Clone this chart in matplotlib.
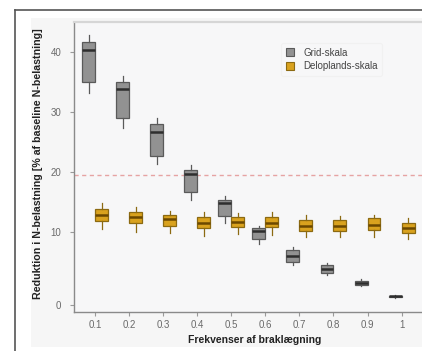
import numpy as np
import matplotlib
matplotlib.use("Agg")
import matplotlib.pyplot as plt
from matplotlib.patches import Rectangle, Patch
from matplotlib.lines import Line2D

# ---------------- data ----------------
categories = ["0.1", "0.2", "0.3", "0.4", "0.5", "0.6", "0.7", "0.8", "0.9", "1"]

grid_med = [40.4, 33.8, 26.6, 19.7, 14.8, 10.2, 6.7, 5.0, 3.05, 1.2]
grid_q1  = [35.0, 29.0, 22.7, 16.7, 12.7, 9.0, 5.9, 4.35, 2.75, 1.1]
grid_q3  = [41.7, 35.0, 28.0, 20.3, 15.3, 10.6, 7.5, 5.5, 3.35, 1.3]
grid_lo  = [33.2, 27.3, 21.3, 15.3, 11.5, 8.4, 5.5, 4.1, 2.6, 1.0]
grid_hi  = [42.8, 36.0, 29.0, 21.2, 16.0, 11.0, 7.9, 5.75, 3.5, 1.4]

del_med = [12.8, 12.55, 12.1, 11.55, 11.7, 11.55, 11.0, 11.0, 11.2, 10.7]
del_q1  = [11.9, 11.45, 11.0, 10.6, 10.8, 10.8, 10.15, 10.15, 10.3, 9.9]
del_q3  = [13.8, 13.3, 12.8, 12.55, 12.55, 12.55, 12.0, 12.0, 12.3, 11.55]
del_lo  = [10.45, 10.05, 9.8, 9.45, 9.7, 9.6, 9.3, 9.3, 9.3, 9.0]
del_hi  = [14.8, 14.2, 13.5, 13.4, 13.2, 13.4, 12.8, 12.7, 12.8, 12.3]

series_names = ["Grid-skala", "Deloplands-skala"]
threshold = 19.5
y_ticks = [0, 10, 20, 30, 40]

# ---------------- scale (axis is stretched below 10) ----------------
K = 73.0 / 60.0

def fwd(v):
    v = np.asarray(v, dtype=float)
    return np.where(v < 10, 10 - (10 - v) * K, v)

def inv(u):
    u = np.asarray(u, dtype=float)
    return np.where(u < 10, 10 - (10 - u) / K, u)

# ---------------- figure ----------------
plt.rcParams['font.family'] = ['Liberation Sans', 'DejaVu Sans']
W, H = 422, 351
fig = plt.figure(figsize=(W / 100, H / 100), dpi=100)
fig.patch.set_facecolor('white')

# light panel behind the chart
fig.add_artist(Rectangle((31 / W, 1 - 347 / H), 1 - 31 / W, (347 - 18) / H,
                         transform=fig.transFigure, facecolor='#f6f6f6',
                         edgecolor='none', zorder=-10))
# outer frame lines
fig.add_artist(Line2D([15 / W, 15 / W], [0, 1 - 10 / H], transform=fig.transFigure,
                      color='#555555', lw=1.2))
fig.add_artist(Line2D([15 / W, 1], [1 - 10 / H, 1 - 10 / H], transform=fig.transFigure,
                      color='#555555', lw=1.2))

ax = fig.add_axes([74 / W, 1 - 312 / H, 1 - 74 / W, (312 - 22) / H])
ax.set_facecolor('#f7f7f8')
ax.set_yscale('function', functions=(fwd, inv))

x = np.arange(len(categories))
off = 0.19
wid = 0.38

def stats(med, q1, q3, lo, hi):
    return [dict(med=m, q1=a, q3=b, whislo=l, whishi=h, fliers=[])
            for m, a, b, l, h in zip(med, q1, q3, lo, hi)]

ax.bxp(stats(grid_med, grid_q1, grid_q3, grid_lo, grid_hi), positions=x - off,
       widths=wid, patch_artist=True, showcaps=False, manage_ticks=False,
       boxprops=dict(facecolor='#929292', edgecolor='#5a5a5a', lw=0.9),
       medianprops=dict(color='#2e2e2e', lw=1.8),
       whiskerprops=dict(color='#5a5a5a', lw=0.9), zorder=3)
ax.bxp(stats(del_med, del_q1, del_q3, del_lo, del_hi), positions=x + off,
       widths=wid, patch_artist=True, showcaps=False, manage_ticks=False,
       boxprops=dict(facecolor='#d9a21e', edgecolor='#8c6a12', lw=0.9),
       medianprops=dict(color='#6b4800', lw=1.8),
       whiskerprops=dict(color='#8c6a12', lw=0.9), zorder=3)

ax.axhline(threshold, color='#e6a3a3', lw=1.0, ls=(0, (3, 2.5)), zorder=2)

ax.set_xlim(-0.62, 9.6)
ax.set_ylim(inv(-3.33), 45)
ax.set_xticks(x)
ax.set_xticklabels(categories)
ax.set_yticks(y_ticks)
ax.set_yticklabels([str(t) for t in y_ticks])
ax.tick_params(axis='both', labelsize=7, colors='#9a9a9a', labelcolor='#6a6a6a',
               length=3, width=0.8)
ax.tick_params(axis='y', pad=6)
ax.tick_params(axis='x', pad=3)

for s in ['left', 'bottom']:
    ax.spines[s].set_color('#8a8a8a')
    ax.spines[s].set_linewidth(1.0)
ax.spines['top'].set_color('#d6d6d6')
ax.spines['top'].set_linewidth(1.6)
ax.spines['right'].set_visible(False)

handles = [Patch(facecolor='#929292', edgecolor='#5a5a5a', lw=0.8),
           Patch(facecolor='#d9a21e', edgecolor='#8c6a12', lw=0.8)]
leg = ax.legend(handles, series_names, loc='upper left', bbox_to_anchor=(0.58, 0.945),
                fontsize=7, frameon=True, handlelength=0.9, handleheight=0.9,
                handletextpad=0.9, labelspacing=0.35, borderpad=0.5)
leg.get_frame().set_facecolor('#f7f7f8')
leg.get_frame().set_edgecolor('#f0f0f0')
leg.get_frame().set_linewidth(0.8)
for t in leg.get_texts():
    t.set_color('#444444')

fig.text(38 / W, 1 - 164 / H, "Reduktion i N-belastning [% af baseline N-belastning]",
         rotation=90, ha='center', va='center', fontsize=7.7, fontweight='bold',
         color='#222222')
fig.text(255 / W, 1 - 340 / H, "Frekvenser af braklægning", ha='center', va='center',
         fontsize=7.5, fontweight='bold', color='#222222')

fig.savefig('out.png', dpi=100)
